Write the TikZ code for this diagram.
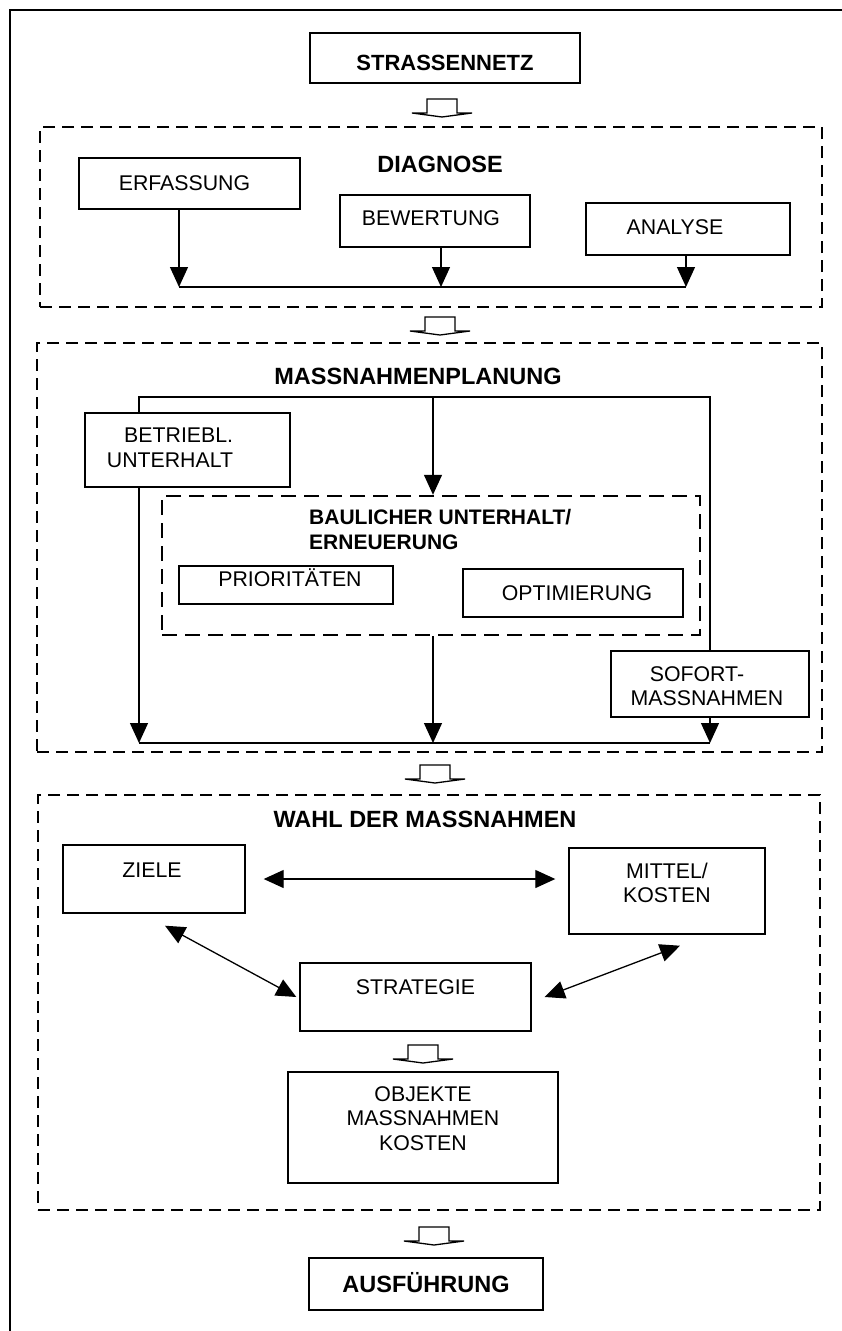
\documentclass[tikz,border=0pt]{standalone}
\usepackage{fontspec}
\setmainfont{Liberation Sans}
\usetikzlibrary{arrows.meta,calc}
\newcommand{\txtreg}{\fontsize{21.3}{24.5}\selectfont}
\newcommand{\txthead}{\fontsize{23.5}{25}\selectfont\bfseries}
\newcommand{\txtsub}{\fontsize{21}{25}\selectfont\bfseries}
\newcommand{\txtbig}{\fontsize{22}{25}\selectfont\bfseries}

\begin{document}
\begin{tikzpicture}[x=1pt, y=-1pt,
  box/.style={draw, line width=1.4pt, inner sep=0pt},
  lbl/.style={font=\txtreg, inner sep=0pt, align=center},
  head/.style={font=\txthead, inner sep=0pt, anchor=base},
  frame/.style={draw, line width=1.5pt, dash pattern=on 12pt off 7pt, inner sep=0pt},
  innerframe/.style={draw, line width=2.4pt, dash pattern=on 15pt off 8pt, inner sep=0pt},
  link/.style={line width=1.3pt},
  arr/.style={link, -{Triangle[length=20pt, width=18pt]}},
  dbl/.style={link, {Triangle[length=20pt, width=18pt]}-{Triangle[length=20pt, width=18pt]}},
  hollow/.pic={\draw[line width=1.3pt, fill=white, line join=miter]
      (-15,0) -- (15,0) -- (15,14) -- (30,14) -- (0,18) -- (-30,14) -- (-15,14) -- cycle;}
]
% page and outer frame (top and left edges only)
\path[fill=white, use as bounding box] (0,0) rectangle (842,1331);
\draw[line width=1.6pt] (842,10) -- (10,10) -- (10,1331);

% dashed group frames
\node[frame, minimum width=782pt, minimum height=180pt] (diag) at (431,217) {};
\node[frame, minimum width=785pt, minimum height=409pt] (mass) at (429.5,547.5) {};
\node[frame, minimum width=782pt, minimum height=415pt] (wahl) at (429,1002.5) {};

% headings
\node[head] (diaglbl) at (440,172) {DIAGNOSE};
\node[head] (masslbl) at (418,384) {MASSNAHMENPLANUNG};
\node[head] (wahllbl) at (425,827) {WAHL DER MASSNAHMEN};

% top and bottom boxes
\node[box, minimum width=270pt, minimum height=50pt,
  label={[lbl, font=\txtbig, name=strassetxt, yshift=-5pt]center:STRASSENNETZ}] (strasse) at (445,58) {};
\node[box, minimum width=234pt, minimum height=52pt,
  label={[lbl, font=\txthead, name=austxt, yshift=1pt]center:AUSFÜHRUNG}] (aus) at (426,1284) {};

% diagnosis
\node[box, minimum width=221pt, minimum height=51pt,
  label={[lbl, name=erftxt, xshift=-5pt]center:ERFASSUNG}] (erf) at (189.5,183.5) {};
\node[box, minimum width=190pt, minimum height=52pt,
  label={[lbl, name=bewtxt, xshift=-4pt, yshift=3pt]center:BEWERTUNG}] (bew) at (435,221) {};
\node[box, minimum width=204pt, minimum height=52pt,
  label={[lbl, name=anatxt, xshift=-13pt, yshift=2pt]center:ANALYSE}] (ana) at (688,229) {};

\coordinate (dbus) at (441,287);
\draw[arr] ([xshift=-10.5pt]erf.south) -- ([xshift=-10.5pt]erf.south |- dbus);
\draw[arr] ([xshift=6pt]bew.south) -- ([xshift=6pt]bew.south |- dbus);
\draw[arr] ([xshift=-2pt]ana.south) -- ([xshift=-2pt]ana.south |- dbus);
\draw[link] ([xshift=-10.5pt]erf.south |- dbus) -- ([xshift=-2pt]ana.south |- dbus);

% planning of measures
\node[box, minimum width=205pt, minimum height=74pt,
  label={[lbl, align=right, name=bettxt, xshift=-17.5pt, yshift=2pt]center:BETRIEBL.\\UNTERHALT}] (bet) at (187.5,450) {};
\node[innerframe, minimum width=538pt, minimum height=139pt] (bau) at (431,565.5) {};
\node[font=\txtsub, inner sep=0pt, anchor=north west, align=left] (baulbl) at (309,509) {BAULICHER UNTERHALT/\\ERNEUERUNG};
\node[box, minimum width=214pt, minimum height=38pt,
  label={[lbl, name=pritxt, xshift=4pt, yshift=7pt]center:PRIORITÄTEN}] (pri) at (286,585) {};
\node[box, minimum width=220pt, minimum height=48pt,
  label={[lbl, name=opttxt, xshift=4pt]center:OPTIMIERUNG}] (opt) at (573,593) {};
\node[box, minimum width=198pt, minimum height=66pt,
  label={[lbl, name=softxt, xshift=-3pt, yshift=-2pt]center:SOFORT-\hspace*{20pt}\\MASSNAHMEN}] (sof) at (710,684) {};

\coordinate (mtop) at (433,397);
\coordinate (mbot) at (433,743);
\coordinate (lrail) at ([xshift=-48.5pt]bet.north);
\draw[link] (lrail) -- (lrail |- mtop) -- (sof.north |- mtop) -- (sof.north);
\draw[arr] (mtop) -- (mtop |- bau.north);
\draw[arr] (lrail |- bet.south) -- (lrail |- mbot);
\draw[arr] (mtop |- bau.south) -- (mbot);
\draw[arr] (sof.south) -- (sof.south |- mbot);
\draw[link] (lrail |- mbot) -- (sof.south |- mbot);

% choice of measures
\node[box, minimum width=182pt, minimum height=68pt,
  label={[lbl, name=zieltxt, xshift=-2pt, yshift=9pt]center:ZIELE}] (ziele) at (154,879) {};
\node[box, minimum width=196pt, minimum height=86pt,
  label={[lbl, name=mitteltxt, yshift=8pt]center:MITTEL/\\KOSTEN}] (mittel) at (667,891) {};
\node[box, minimum width=231pt, minimum height=68pt,
  label={[lbl, name=strattxt, yshift=9.5pt]center:STRATEGIE}] (strat) at (415.5,997) {};
\node[box, minimum width=270pt, minimum height=111pt,
  label={[lbl, name=objtxt, yshift=9pt]center:OBJEKTE\\MASSNAHMEN\\KOSTEN}] (obj) at (423,1127.5) {};

\draw[dbl] ([xshift=18pt]ziele.east) -- ([xshift=-13pt]ziele.east -| mittel.west);
\draw[dbl] ([xshift=11pt, yshift=-12pt]ziele.south) -- ([xshift=-3pt]strat.west);
\draw[dbl] ([xshift=13pt, yshift=-11pt]mittel.south) -- ([xshift=13pt]strat.east);

% hollow flow arrows between stages
\pic at (442,99) {hollow};
\pic at (440,317) {hollow};
\pic at (435,765) {hollow};
\pic at (423,1045) {hollow};
\pic at (434,1227) {hollow};
\end{tikzpicture}
\end{document}
